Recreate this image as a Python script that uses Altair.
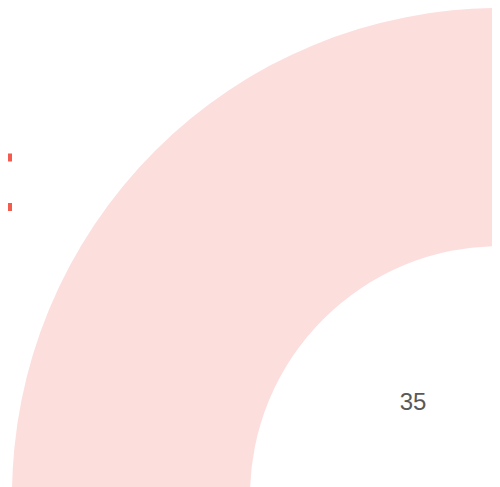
import altair as alt
import pandas as pd

# Donut slices (only the upper-left quarter is visible in the frame)
categories = ["Rest", "Shown"]
values = [105, 35]
labels = ["", "35"]
slice_colors = ["#fcdedd", "#fcdedd"]

# Partially visible legend swatches at the left edge
legend_items = ["A", "B"]
legend_colors = ["#f35b4f", "#f35b4f"]

df = pd.DataFrame({"category": categories, "value": values,
                   "label": labels, "order": list(range(len(categories)))})
leg = pd.DataFrame({"item": legend_items})

base = alt.Chart(df).encode(
    theta=alt.Theta("value:Q", stack=True),
    order=alt.Order("order:Q"),
)

arc = base.mark_arc(radius=488, radius2=250, strokeWidth=0).encode(
    x=alt.value(492), y=alt.value(488),
    color=alt.Color("category:N",
                    scale=alt.Scale(domain=categories, range=slice_colors),
                    legend=None),
)

text = base.mark_text(radius=125, fontSize=24, font="Liberation Sans",
                      color="#595959", dx=1.5, dy=-5).encode(
    x=alt.value(492), y=alt.value(488), text="label:N",
)

squares = alt.Chart(leg).mark_square(size=64, opacity=1).encode(
    x=alt.value(0),
    y=alt.Y("item:N", scale=alt.Scale(range=[149.5, 199], padding=0), axis=None),
    color=alt.Color("item:N",
                    scale=alt.Scale(domain=legend_items, range=legend_colors),
                    legend=None),
)

chart = alt.layer(arc, text, squares).resolve_scale(
    color="independent", y="independent"
).properties(
    width=484, height=479,
    autosize=alt.AutoSizeParams(type="none"),
    padding=0,
).configure_view(stroke=None)

chart.save("out.html", embed_options={"renderer": "svg", "actions": False})
